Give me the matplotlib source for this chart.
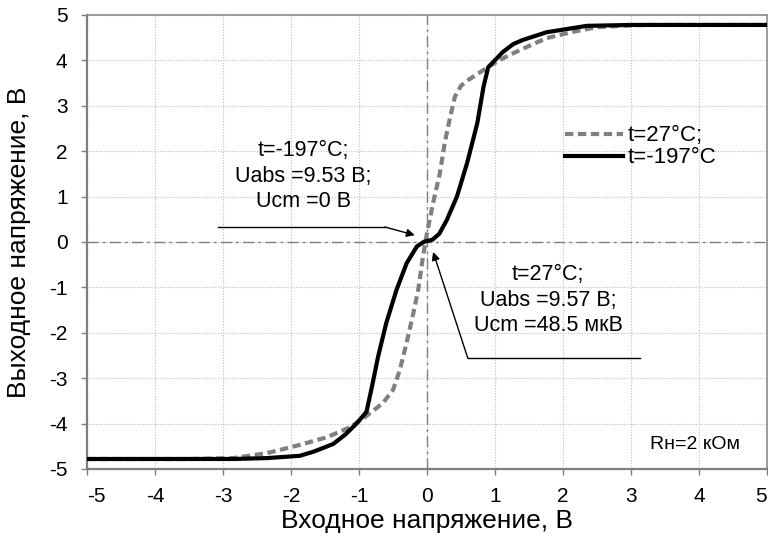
import matplotlib

matplotlib.use("Agg")
import matplotlib.pyplot as plt

plt.rcParams["font.family"] = ["Liberation Sans", "DejaVu Sans"]
plt.rcParams["axes.unicode_minus"] = False

# t = 27 °C (dashed gray)
x_warm = [-5.0, -3.5, -2.85, -2.35, -1.87, -1.47, -1.13, -0.88, -0.65, -0.5,
          -0.4, -0.3, -0.2, -0.13, -0.06, 0.0, 0.09, 0.19, 0.26, 0.34, 0.41,
          0.5, 0.62, 0.74, 0.95, 1.15, 1.37, 1.76, 2.15, 2.5, 2.84, 3.2, 4.0, 5.0]
y_warm = [-4.78, -4.78, -4.76, -4.65, -4.47, -4.3, -4.08, -3.82, -3.55, -3.26,
          -2.82, -2.22, -1.56, -1.06, -0.33, 0.2, 0.86, 1.52, 2.18, 2.75, 3.2,
          3.44, 3.58, 3.7, 3.9, 4.07, 4.23, 4.49, 4.63, 4.73, 4.76, 4.78, 4.78, 4.78]

# t = -197 °C (solid black)
x_cold = [-5.0, -3.5, -2.85, -2.35, -1.87, -1.67, -1.38, -1.2, -1.03, -0.89,
          -0.81, -0.72, -0.6, -0.45, -0.3, -0.15, -0.05, 0.0, 0.08, 0.18,
          0.29, 0.44, 0.59, 0.74, 0.83, 0.9, 1.12, 1.27, 1.41, 1.76, 2.35,
          2.99, 4.0, 5.0]
y_cold = [-4.78, -4.78, -4.78, -4.76, -4.71, -4.62, -4.45, -4.24, -3.99, -3.74,
          -3.19, -2.53, -1.79, -1.06, -0.47, -0.1, 0.0, 0.02, 0.05, 0.18,
          0.48, 1.0, 1.74, 2.62, 3.41, 3.85, 4.19, 4.36, 4.45, 4.62, 4.76,
          4.78, 4.78, 4.78]

x_ticks = list(range(-5, 6))
y_ticks = list(range(-5, 6))

label_warm = "t=27°C;"
label_cold = "t=-197°C"
note_cold = "t=-197°C;\nUabs =9.53 В;\nUcm =0 В"
note_warm = "t=27°C;\nUabs =9.57 В;\nUcm =48.5 мкВ"

fig = plt.figure(figsize=(7.68, 5.38), dpi=100)
ax = fig.add_axes([0.1133, 0.1283, 0.8854, 0.8439])

ax.plot(x_warm, y_warm, color="#808080", linewidth=3.0, linestyle=(0, (2, 1.1)),
        label=label_warm, zorder=3)
ax.plot(x_cold, y_cold, color="black", linewidth=3.0, label=label_cold,
        solid_joinstyle="round", zorder=4)

ax.axhline(0, color="#808080", linewidth=1.0, linestyle=(0, (8, 3, 2, 3)), zorder=2)
ax.axvline(0, color="#808080", linewidth=1.0, linestyle=(0, (8, 3, 2, 3)), zorder=2)

ax.set_xlim(-5, 5)
ax.set_ylim(-5, 5)
ax.set_xticks(x_ticks)
ax.set_yticks(y_ticks)
ax.grid(True, color="#bdbdbd", linestyle=(0, (1, 1.5)), linewidth=0.8)
ax.set_axisbelow(True)

for side in ["left", "bottom"]:
    ax.spines[side].set_color("#7f7f7f")
    ax.spines[side].set_linewidth(1.6)
for side in ["top", "right"]:
    ax.spines[side].set_color("#8c8c8c")
    ax.spines[side].set_linewidth(1.2)

ax.tick_params(axis="both", direction="out", length=4, width=1, color="#7f7f7f",
               labelsize=15)
ax.tick_params(axis="x", pad=9)
ax.tick_params(axis="y", pad=10)
xt = ax.get_xticklabels()
xt[0].set_ha("left")
xt[-1].set_ha("right")

ax.set_xlabel("Входное напряжение, В", fontsize=19)
ax.set_ylabel("Выходное напряжение, В", fontsize=19)
ax.xaxis.set_label_coords(0.5, -0.088)
ax.yaxis.set_label_coords(-0.082, 0.5)

# callout for -197 °C
ax.plot([-3.07, -0.62], [0.33, 0.33], color="black", linewidth=1.0)
ax.annotate("", xy=(-0.18, 0.15), xytext=(-0.62, 0.33),
            arrowprops=dict(arrowstyle="-|>", color="black", lw=1.0,
                            mutation_scale=12, shrinkA=0, shrinkB=0))
ax.text(-1.82, 1.45, note_cold, ha="center", va="center", fontsize=15.5, linespacing=1.26)

# callout for 27 °C
ax.plot([3.13, 0.60], [-2.56, -2.56], color="black", linewidth=1.0)
ax.annotate("", xy=(0.09, -0.22), xytext=(0.60, -2.56),
            arrowprops=dict(arrowstyle="-|>", color="black", lw=1.0,
                            mutation_scale=12, shrinkA=0, shrinkB=0))
ax.text(1.78, -1.28, note_warm, ha="center", va="center", fontsize=15.5, linespacing=1.26)

ax.text(4.6, -4.45, "Rн=2 кОм", ha="right", va="center", fontsize=14)

ax.legend(loc="upper left", bbox_to_anchor=(0.703, 0.757), frameon=False,
          fontsize=16, handlelength=2.6, handletextpad=0.2, labelspacing=0.05,
          borderpad=0, borderaxespad=0)

fig.savefig("out.png", dpi=100)
